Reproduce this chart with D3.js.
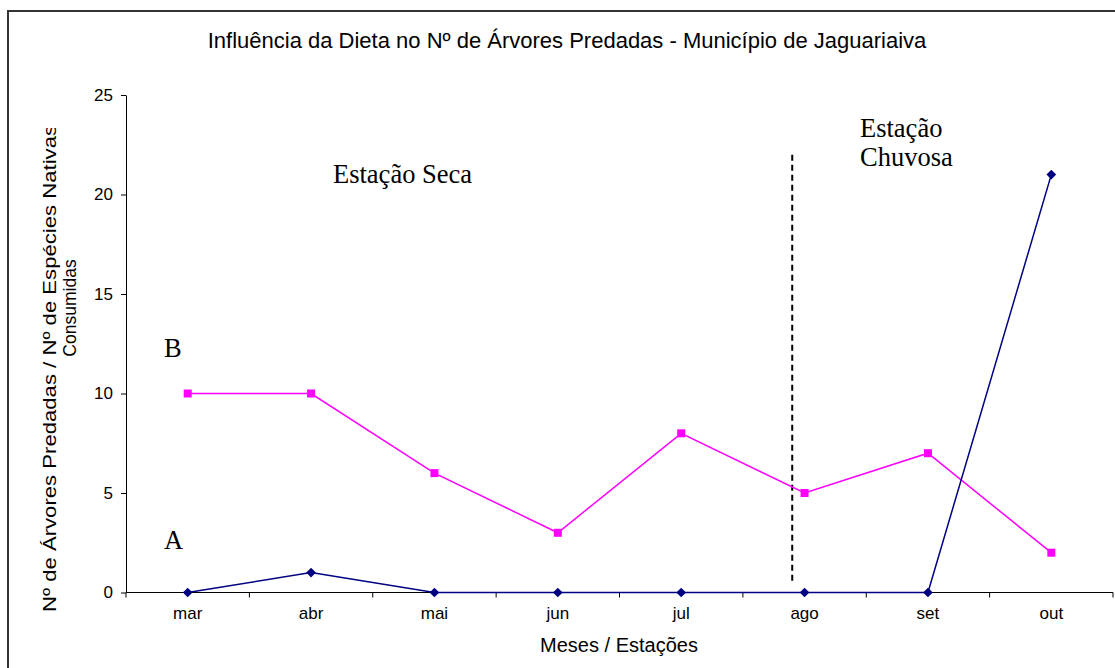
<!DOCTYPE html>
<html>
<head>
<meta charset="utf-8">
<script src="https://cdn.jsdelivr.net/npm/d3@7"></script>
<style>
  html, body { margin: 0; padding: 0; background: #fff; }
  svg { display: block; }
</style>
</head>
<body>
<svg id="chart" width="1115" height="668"></svg>
<script>
// Months of the sampling period
const months = ["mar", "abr", "mai", "jun", "jul", "ago", "set", "out"];
// Series A: Nº de Árvores Predadas
const seriesA = [0, 1, 0, 0, 0, 0, 0, 21];
// Series B: Nº de Espécies Nativas Consumidas
const seriesB = [10, 10, 6, 3, 8, 5, 7, 2];
// Y axis ticks
const yTicks = [0, 5, 10, 15, 20, 25];
// Boundary between dry and rainy season (month index) and its vertical extent
const seasonSplit = { index: 4.9, from: 0.5, to: 22 };

const svg = d3.select("#chart");
const W = 1115, H = 668;
const plot = { left: 126, right: 1113, top: 95, bottom: 592.5 };

// Outer frame
svg.append("rect")
  .attr("x", 8).attr("y", 11)
  .attr("width", W + 20).attr("height", H + 20)
  .attr("fill", "none").attr("stroke", "#333").attr("stroke-width", 2);

// Title
svg.append("text")
  .attr("x", 567).attr("y", 48)
  .attr("text-anchor", "middle")
  .attr("font-family", "Liberation Sans, Arial, sans-serif")
  .attr("font-size", 22)
  .text("Influência da Dieta no Nº de Árvores Predadas - Município de Jaguariaiva");

// Scales
const x = d3.scaleBand().domain(months).range([plot.left, plot.right]).padding(0);
const xi = d3.scaleLinear().domain([-0.5, months.length - 0.5]).range([plot.left, plot.right]);
const y = d3.scaleLinear().domain([0, 25]).range([plot.bottom, plot.top]);

// Y axis
const yAxis = svg.append("g")
  .attr("transform", `translate(${plot.left},0)`)
  .call(d3.axisLeft(y).tickValues(yTicks).tickSize(5).tickPadding(8).tickSizeOuter(0));
yAxis.select(".domain").attr("stroke", "#000");
yAxis.selectAll(".tick line").attr("stroke", "#000");
yAxis.selectAll("text")
  .attr("font-family", "Liberation Sans, Arial, sans-serif")
  .attr("font-size", 17).attr("fill", "#000");

// X axis: labels centred in each month band, ticks on band boundaries
const xAxis = svg.append("g")
  .attr("transform", `translate(0,${plot.bottom})`)
  .call(d3.axisBottom(x).tickSize(0).tickPadding(14).tickSizeOuter(0));
xAxis.select(".domain").attr("stroke", "#000").attr("d", `M${plot.left},0H${plot.right}`);
xAxis.selectAll("text")
  .attr("font-family", "Liberation Sans, Arial, sans-serif")
  .attr("font-size", 17).attr("fill", "#000");
svg.append("g")
  .selectAll("line")
  .data(d3.range(-0.5, months.length, 1))
  .join("line")
  .attr("x1", d => xi(d)).attr("x2", d => xi(d))
  .attr("y1", plot.bottom).attr("y2", plot.bottom + 5)
  .attr("stroke", "#000");

// X axis title
svg.append("text")
  .attr("x", 619).attr("y", 652)
  .attr("text-anchor", "middle")
  .attr("font-family", "Liberation Sans, Arial, sans-serif")
  .attr("font-size", 20)
  .text("Meses / Estações");

// Y axis title (two lines, first line clipped at the top)
svg.append("clipPath").attr("id", "ytitle-clip")
  .append("rect").attr("x", 0).attr("y", 128).attr("width", 120).attr("height", 540);
const yTitle = svg.append("g").attr("clip-path", "url(#ytitle-clip)");
yTitle.append("text")
  .attr("transform", "translate(56,612) rotate(-90)")
  .attr("font-family", "Liberation Sans, Arial, sans-serif")
  .attr("font-size", 19)
  .attr("textLength", 487).attr("lengthAdjust", "spacingAndGlyphs")
  .text("Nº de Árvores Predadas / Nº de Espécies Nativas");
svg.append("text")
  .attr("transform", "translate(76,308) rotate(-90)")
  .attr("text-anchor", "middle")
  .attr("font-family", "Liberation Sans, Arial, sans-serif")
  .attr("font-size", 17.5)
  .text("Consumidas");

// Season divider
svg.append("line")
  .attr("x1", xi(seasonSplit.index)).attr("x2", xi(seasonSplit.index))
  .attr("y1", y(seasonSplit.to)).attr("y2", y(seasonSplit.from))
  .attr("stroke", "#000").attr("stroke-width", 2)
  .attr("stroke-dasharray", "6,4");

// Series lines
const line = d3.line().x((d, i) => x(months[i]) + x.bandwidth() / 2).y(d => y(d));

svg.append("path").datum(seriesB)
  .attr("d", line).attr("fill", "none")
  .attr("stroke", "#FF00FF").attr("stroke-width", 1.5);
svg.append("g").selectAll("rect")
  .data(seriesB)
  .join("rect")
  .attr("x", (d, i) => x(months[i]) + x.bandwidth() / 2 - 4)
  .attr("y", d => y(d) - 4)
  .attr("width", 8).attr("height", 8)
  .attr("fill", "#FF00FF");

svg.append("path").datum(seriesA)
  .attr("d", line).attr("fill", "none")
  .attr("stroke", "#000080").attr("stroke-width", 1.5);
svg.append("g").selectAll("path")
  .data(seriesA)
  .join("path")
  .attr("d", d3.symbol(d3.symbolDiamond2, 60))
  .attr("transform", (d, i) => `translate(${x(months[i]) + x.bandwidth() / 2},${y(d)})`)
  .attr("fill", "#000080");

// Annotations
const serif = "Liberation Serif, Times New Roman, serif";
const notes = [
  { t: "Estação Seca", x: 333, y: 183 },
  { t: "Estação", x: 860, y: 137 },
  { t: "Chuvosa", x: 860, y: 166 },
  { t: "B", x: 164, y: 357 },
  { t: "A", x: 164, y: 549 }
];
svg.append("g").selectAll("text")
  .data(notes)
  .join("text")
  .attr("x", d => d.x).attr("y", d => d.y)
  .attr("font-family", serif)
  .attr("font-size", 26.5)
  .text(d => d.t);
</script>
</body>
</html>
